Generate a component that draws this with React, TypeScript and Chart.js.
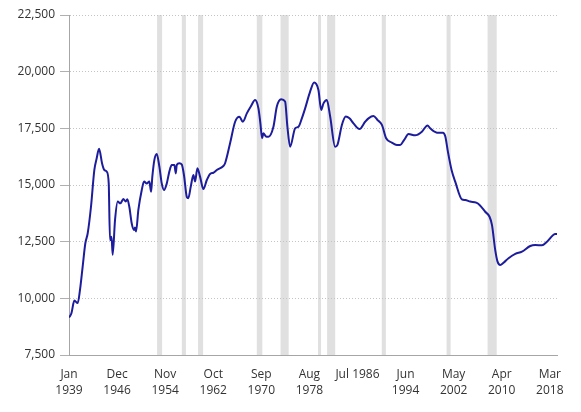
import React, { useEffect, useRef } from "react";
import { Chart, registerables } from "chart.js";

Chart.register(...registerables);

// Manufacturing employment (thousands)
const YEARS: number[] = [
  1939.0, 1939.4, 1939.88, 1940.43, 1940.81, 1941.25, 1941.69, 1942.08, 1942.62, 1943.17,
  1943.56, 1943.95, 1944.44, 1944.82, 1945.21, 1945.54, 1945.75, 1946.0, 1946.19, 1946.58,
  1947.02, 1947.45, 1947.95, 1948.34, 1948.6, 1948.93, 1949.33, 1949.71, 1949.87, 1950.04,
  1950.42, 1950.98, 1951.36, 1951.8, 1952.23, 1952.51, 1952.72, 1953.05, 1953.45, 1953.88,
  1954.27, 1954.65, 1955.1, 1955.52, 1955.92, 1956.35, 1956.58, 1956.74, 1957.17, 1957.57,
  1957.95, 1958.39, 1958.65, 1959.05, 1959.48, 1959.76, 1960.14, 1960.58, 1961.13, 1961.69,
  1962.23, 1962.77, 1963.33, 1964.42, 1964.7, 1965.52, 1966.35, 1967.06, 1967.62, 1968.28,
  1968.93, 1969.64, 1970.19, 1970.5, 1970.8, 1971.0, 1971.4, 1971.83, 1972.66, 1973.22,
  1973.93, 1974.58, 1974.96, 1975.41, 1976.23, 1976.78, 1977.34, 1977.88, 1978.7, 1979.36,
  1980.07, 1980.52, 1980.9, 1981.45, 1982.0, 1982.82, 1983.2, 1983.93, 1984.58, 1985.18,
  1985.84, 1986.83, 1987.76, 1988.31, 1989.13, 1989.79, 1990.52, 1991.22, 1992.16, 1992.99,
  1993.53, 1994.19, 1994.9, 1996.0, 1997.1, 1998.03, 1998.47, 1999.58, 2000.56, 2000.95,
  2001.4, 2002.0, 2002.59, 2003.69, 2004.24, 2005.06, 2006.05, 2006.6, 2007.53, 2008.24,
  2008.64, 2009.18, 2009.56, 2010.0, 2010.55, 2011.37, 2012.48, 2013.58, 2014.95, 2015.77,
  2016.88, 2017.7, 2019.07, 2019.35,
];

const EMPLOYMENT: number[] = [
  9150, 9340, 9900, 9790, 10370, 11400, 12430, 12870, 14040, 15660,
  16180, 16600, 15960, 15660, 15590, 15070, 12570, 12720, 11920, 13460,
  14270, 14190, 14380, 14270, 14370, 14040, 13300, 13020, 13130, 12950,
  13900, 14780, 15150, 15070, 15150, 14700, 15370, 16100, 16370, 15810,
  15070, 14780, 15070, 15590, 15880, 15880, 15510, 15880, 15960, 15900,
  15400, 14480, 14420, 14930, 15440, 15150, 15740, 15370, 14820, 15220,
  15490, 15540, 15660, 15840, 15960, 16840, 17790, 18010, 17790, 18160,
  18460, 18750, 18380, 17750, 17060, 17280, 17150, 17130, 17570, 18460,
  18780, 18680, 17570, 16690, 17500, 17570, 17940, 18380, 19120, 19520,
  19190, 18310, 18600, 18750, 18020, 16690, 16770, 17650, 18020, 17940,
  17720, 17470, 17790, 17940, 18040, 17870, 17650, 17060, 16870, 16770,
  16770, 16990, 17250, 17190, 17350, 17630, 17500, 17310, 17300, 17150,
  16450, 15650, 15150, 14370, 14340, 14270, 14220, 14120, 13820, 13600,
  13240, 12130, 11620, 11470, 11570, 11770, 11960, 12060, 12310, 12350,
  12340, 12500, 12840, 12840,
];

// Recession periods (shaded)
const REC_START: number[] = [1953.5, 1957.58, 1960.25, 1969.92, 1973.83, 1980.0, 1981.5, 1990.5, 2001.17, 2007.92];
const REC_END: number[] = [1954.33, 1958.25, 1961.08, 1970.83, 1975.17, 1980.5, 1982.83, 1991.17, 2001.83, 2009.42];

// X tick positions and labels
const TICK_YEARS: number[] = [1939.0, 1946.917, 1954.833, 1962.75, 1970.667, 1978.583, 1986.5, 1994.417, 2002.333, 2010.25, 2018.167];
const TICK_LABELS: (string | string[])[] = [
  ["Jan", "1939"], ["Dec", "1946"], ["Nov", "1954"], ["Oct", "1962"], ["Sep", "1970"],
  ["Aug", "1978"], "Jul 1986", ["Jun", "1994"], ["May", "2002"], ["Apr", "2010"], ["Mar", "2018"],
];

const Y_MIN = 7500;
const Y_MAX = 22500;
const Y_STEP = 2500;

const recessionPlugin = {
  id: "recessions",
  beforeDraw(chart: any) {
    const { ctx, chartArea, scales } = chart;
    const x = scales.x;
    ctx.save();
    ctx.fillStyle = "#e0e0e0";
    for (let i = 0; i < REC_START.length; i++) {
      const x0 = x.getPixelForValue(REC_START[i]);
      const x1 = x.getPixelForValue(REC_END[i]);
      ctx.fillRect(x0, chartArea.top, x1 - x0, chartArea.bottom - chartArea.top);
    }
    ctx.restore();
  },
};

export default function App() {
  const ref = useRef<HTMLCanvasElement | null>(null);
  useEffect(() => {
    if (!ref.current) return;
    const font = { family: "'Open Sans', sans-serif", size: 12 };
    const chart = new Chart(ref.current, {
      type: "line",
      data: {
        datasets: [
          {
            data: YEARS.map((y, i) => ({ x: y, y: EMPLOYMENT[i] })),
            borderColor: "#1c1c9c",
            borderWidth: 2,
            pointRadius: 0,
            cubicInterpolationMode: "monotone",
            fill: false,
          },
        ],
      },
      options: {
        animation: false,
        responsive: true,
        maintainAspectRatio: false,
        parsing: false as any,
        layout: { padding: { top: 15, right: 24, left: 0, bottom: 0 } },
        plugins: { legend: { display: false }, tooltip: { enabled: false } },
        scales: {
          x: {
            type: "linear",
            min: 1939.0,
            max: 2019.35,
            afterBuildTicks: (scale: any) => {
              scale.ticks = TICK_YEARS.map((v) => ({ value: v }));
            },
            afterFit: (scale: any) => {
              scale.height = 57;
            },
            ticks: {
              autoSkip: false,
              maxRotation: 0,
              minRotation: 0,
              padding: 12,
              color: "#333",
              font: { ...font, lineHeight: 1.3 },
              callback: (_v: any, i: number) => TICK_LABELS[i],
            },
            grid: { display: false, drawTicks: false },
            border: { display: true, color: "#a6a6a6", width: 1 },
          },
          y: {
            type: "linear",
            min: Y_MIN,
            max: Y_MAX,
            afterFit: (scale: any) => {
              scale.width = 69;
            },
            ticks: {
              stepSize: Y_STEP,
              padding: 5,
              color: "#333",
              font,
              callback: (v: any) => Number(v).toLocaleString("en-US"),
            },
            grid: {
              color: "#c4c4c4",
              lineWidth: 1,
              tickLength: 9,
              drawTicks: true,
              tickColor: "#b0b0b0",
              tickBorderDash: [],
            } as any,
            border: { display: true, color: "#a6a6a6", width: 1, dash: [1, 2] },
          },
        },
      } as any,
      plugins: [recessionPlugin],
    });
    return () => chart.destroy();
  }, []);

  return (
    <div style={{ position: "absolute", left: 0, top: 0, width: 581, height: 412 }}>
      <canvas ref={ref} />
    </div>
  );
}
